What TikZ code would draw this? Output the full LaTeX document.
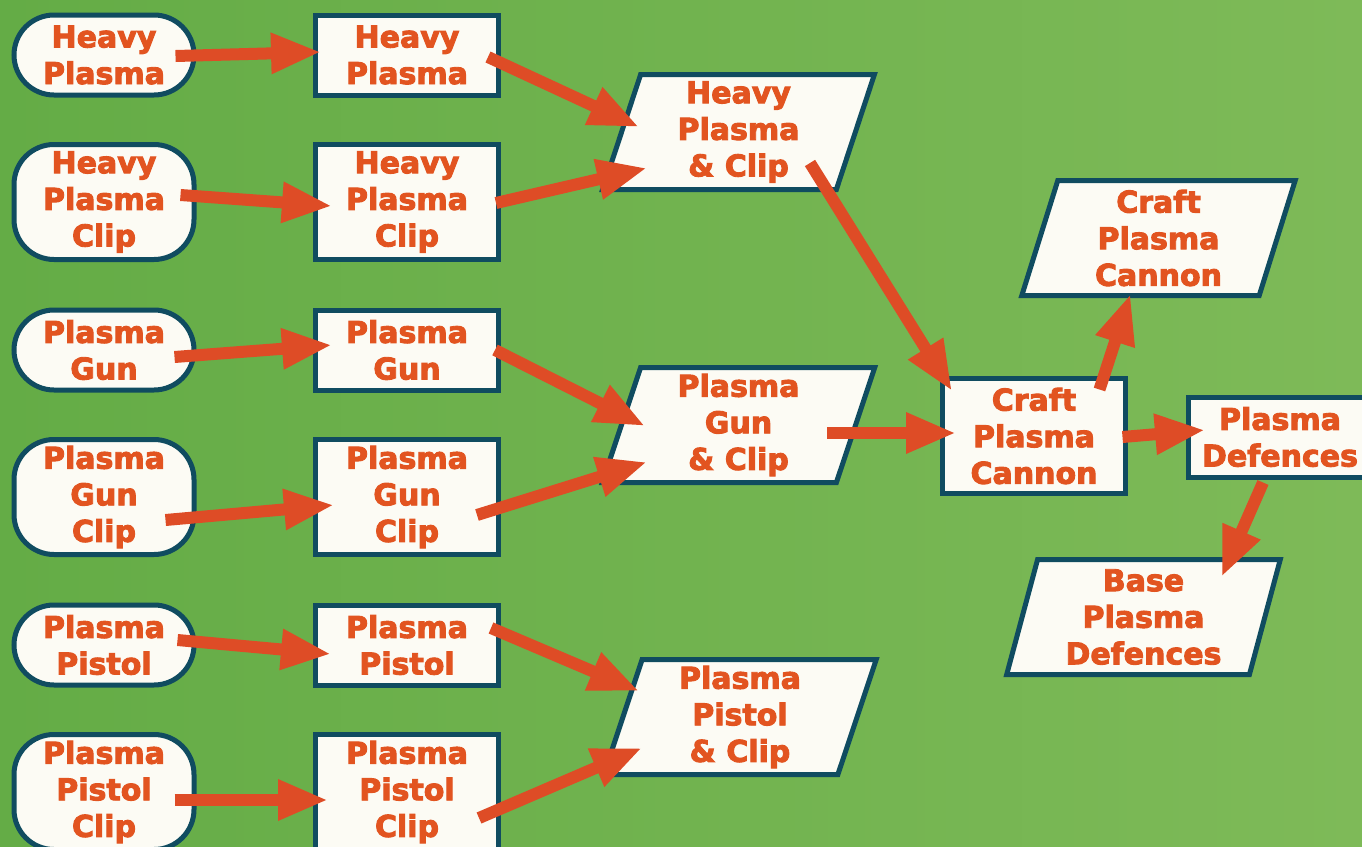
\documentclass[tikz,border=0pt]{standalone}
\usepackage{fontspec}
\setmainfont{DejaVu Sans}
\newfontfamily\heavyfont{DejaVu Sans Bold}[FakeBold=3]
\usepackage{tikz}
\usetikzlibrary{positioning,arrows.meta,shapes.geometric,calc}
\usepackage{xcolor}
\definecolor{bggreen}{RGB}{100,172,70}
\definecolor{bglight}{RGB}{126,186,88}
\definecolor{boxline}{RGB}{16,76,96}
\definecolor{boxfill}{RGB}{252,251,244}
\definecolor{plasmaorange}{RGB}{226,84,32}
\definecolor{arrowred}{RGB}{222,76,38}

\begin{document}
\begin{tikzpicture}[x=0.5pt, y=-0.5pt,
  font=\heavyfont\fontsize{15}{18.3}\selectfont,
  base/.style={draw=boxline, line width=2.5pt, fill=boxfill, text=plasmaorange, align=center, inner sep=2pt},
  pill/.style={base, rectangle, rounded corners=20pt, minimum width=90pt},
  box/.style={base, rectangle, minimum width=91.5pt},
  slant/.style={base, trapezium, trapezium left angle=77, trapezium right angle=103,
    trapezium stretches=true, minimum width=137pt, minimum height=57.5pt},
  twoline/.style={minimum height=40pt},
  threeline/.style={minimum height=57.5pt},
  feed/.style={draw=arrowred, line width=6pt, -{Triangle[length=25pt,width=19pt]}}]
% background
\useasboundingbox (0,0) rectangle (1362,847);
\shade[left color=bggreen, right color=bglight] (0,0) rectangle (1362,847);
% raw items
\node[pill, twoline] (in1) at (104,55) {Heavy\\Plasma};
\node[pill, threeline] (in2) at (104,202) {Heavy\\Plasma\\Clip};
\node[pill, twoline] (in3) at (104,350) {Plasma\\Gun};
\node[pill, threeline] (in4) at (104,497) {Plasma\\Gun\\Clip};
\node[pill, twoline] (in5) at (104,645) {Plasma\\Pistol};
\node[pill, threeline] (in6) at (104,792) {Plasma\\Pistol\\Clip};
% researched items
\node[box, twoline] (it1) at (407,55) {Heavy\\Plasma};
\node[box, threeline] (it2) at (407,202) {Heavy\\Plasma\\Clip};
\node[box, twoline] (it3) at (407,350) {Plasma\\Gun};
\node[box, threeline] (it4) at (407,497) {Plasma\\Gun\\Clip};
\node[box, twoline] (it5) at (407,645) {Plasma\\Pistol};
\node[box, threeline] (it6) at (407,792) {Plasma\\Pistol\\Clip};
% weapon kits
\node[slant] (kit1) at (738.5,132) {Heavy\\Plasma\\\& Clip};
\node[slant] (kit2) at (738.5,425) {Plasma\\Gun\\\& Clip};
\node[slant] (kit3) at (740,717) {Plasma\\Pistol\\\& Clip};
% cannon and defences
\node[box, threeline] (cannon) at (1034,436) {Craft\\Plasma\\Cannon};
\node[slant] (cannonkit) at (1158.5,238) {Craft\\Plasma\\Cannon};
\node[box, twoline] (def) at (1280,437) {Plasma\\Defences};
\node[slant] (basedef) at (1143.5,617) {Base\\Plasma\\Defences};
% raw -> researched
\draw[feed] ($(in1.east)+(-21,1)$) -- ($(it1.west)+(8,-3)$);
\draw[feed] ($(in2.east)+(-16,-7)$) -- ($(it2.west)+(19,4)$);
\draw[feed] ($(in3.east)+(-22,7)$) -- ($(it3.west)+(19,-5)$);
\draw[feed] ($(in4.east)+(-31,23)$) -- ($(it4.west)+(21,8)$);
\draw[feed] ($(in5.east)+(-19,-5)$) -- ($(it5.west)+(18,9)$);
\draw[feed] ($(in6.east)+(-22,8)$) -- ($(it6.west)+(15,8)$);
% researched -> kits
\draw[feed] ($(it1.east)+(-13,2)$) -- ($(kit1)+(-99.5,-5)$);
\draw[feed] ($(it2.east)+(-5,1)$) -- ($(kit1)+(-91.5,36)$);
\draw[feed] ($(it3.east)+(-6,0)$) -- ($(kit2)+(-93.5,1)$);
\draw[feed] ($(it4.east)+(-24,18)$) -- ($(kit2)+(-91.5,37)$);
\draw[feed] ($(it5.east)+(-10,-17)$) -- ($(kit3)+(-101,-26)$);
\draw[feed] ($(it6.east)+(-22,26)$) -- ($(kit3)+(-98,31)$);
% kits -> cannon
\draw[feed] ($(kit1)+(71.5,31)$) -- ($(cannon.north west)+(12,15)$);
\draw[feed] ($(kit2)+(88.5,8)$) -- ($(cannon.west)+(16,-3)$);
% cannon -> outputs
\draw[feed] ($(cannon.north east)+(-28.5,13.5)$) -- ($(cannonkit)+(-28,56)$);
\draw[feed] ($(cannon.east)+(-5.5,1)$) -- ($(def.west)+(19,-7)$);
\draw[feed] ($(def.south)+(-17,3)$) -- ($(basedef)+(78,-40)$);
\end{tikzpicture}
\end{document}
